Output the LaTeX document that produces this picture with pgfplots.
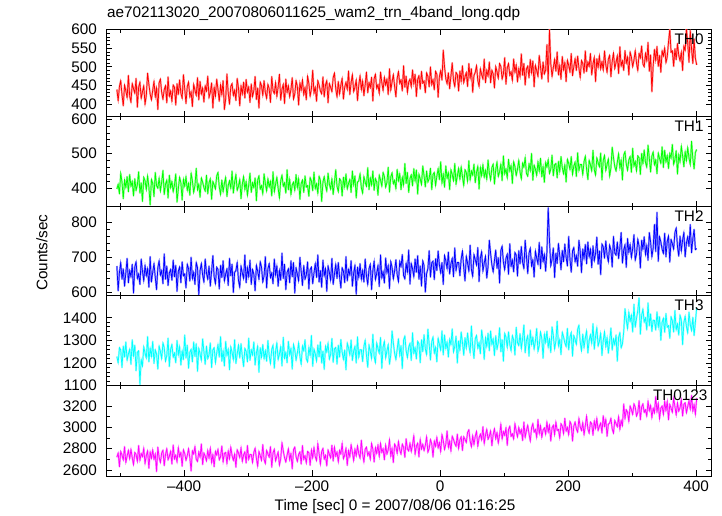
\documentclass[border=0pt]{standalone}
\usepackage{pgfplots}
\usepackage{pgfplotstable}
\usepackage{fontspec}
\setmainfont{Liberation Sans}
\pgfplotsset{compat=1.18}
\definecolor{qred}{RGB}{255,0,0}
\definecolor{qgreen}{RGB}{0,255,0}
\definecolor{qblue}{RGB}{0,0,255}
\definecolor{qcyan}{RGB}{0,255,255}
\definecolor{qmag}{RGB}{255,0,255}
\newcommand{\lbl}{\fontsize{15.3}{18}\selectfont}
\pgfplotstableread{
t a b c d e
-505 439 398 675 1229 2720
-503 409 412 604 1201 2760
-501 447 384 657 1268 2630
-499 463 444 685 1258 2775
-497 425 418 637 1180 2740
-495 395 370 667 1275 2695
-493 451 424 617 1226 2820
-491 435 402 655 1293 2670
-489 417 434 697 1212 2730
-487 477 390 627 1240 2785
-485 421 440 662 1261 2705
-483 405 406 644 1194 2795
-481 455 420 680 1303 2715
-479 441 378 597 1233 2650
-477 429 428 672 1279 2765
-475 469 394 687 1166 2745
-473 391 410 639 1247 2680
-471 445 448 652 1254 2830
-469 459 386 622 1105 2690
-467 415 416 695 1215 2755
-465 433 362 660 1187 2725
-463 449 432 632 1272 2805
-461 399 422 677 1244 2660
-459 423 396 647 1222 2735
-457 483 436 667 1317 2780
-455 453 404 614 1205 2615
-453 427 352 702 1265 2770
-451 411 426 629 1229 2710
-449 437 414 657 1296 2790
-447 461 376 682 1198 2700
-445 419 446 642 1258 2750
-443 443 408 607 1240 2585
-441 385 400 670 1173 2815
-439 457 430 690 1275 2720
-437 467 392 649 1251 2670
-435 431 418 662 1219 2760
-433 413 452 624 1289 2785
-431 439 382 710 1268 2640
-429 449 412 637 1208 2745
-427 403 424 675 1233 2800
-425 473 372 619 1310 2695
-423 421 438 655 1184 2730
-421 435 402 665 1261 2775
-419 407 420 634 1282 2655
-417 451 390 692 1226 2835
-415 445 410 644 1244 2705
-413 397 442 677 1201 2740
-411 455 360 602 1300 2675
-409 425 398 660 1236 2810
-407 465 432 672 1272 2725
-405 429 416 627 1191 2765
-403 415 366 687 1254 2635
-401 479 426 647 1215 2790
-399 441 406 652 1324 2755
-397 401 434 612 1222 2690
-395 447 394 680 1279 2735
-393 459 414 667 1177 2800
-391 419 380 632 1247 2715
-389 433 444 700 1261 2590
-387 393 422 639 1205 2780
-385 453 388 657 1293 2750
-383 437 408 622 1229 2820
-381 423 458 685 1286 2700
-379 471 396 670 1163 2680
-377 411 412 592 1265 2770
-375 461 374 662 1240 2720
-373 427 430 682 1212 2845
-371 443 418 649 1307 2650
-369 405 402 629 1251 2760
-367 449 392 695 1194 2730
-365 435 438 655 1275 2685
-363 475 384 637 1219 2785
-361 417 416 675 1236 2710
-359 431 428 617 1289 2805
-357 457 368 660 1180 2670
-355 389 420 705 1258 2745
-353 445 410 644 1268 2630
-351 421 398 624 1201 2775
-349 467 436 672 1244 2740
-347 439 446 665 1282 2795
-345 407 404 609 1226 2695
-343 451 382 677 1317 2725
-341 425 424 642 1208 2825
-339 463 390 690 1254 2675
-337 385 414 632 1187 2755
-335 413 432 652 1296 2765
-333 481 376 667 1233 2660
-331 429 408 619 1261 2780
-329 399 422 697 1170 2705
-327 447 400 647 1272 2815
-325 455 450 680 1247 2735
-323 423 386 599 1215 2690
-321 437 418 657 1303 2750
-319 409 440 662 1198 2625
-317 469 394 685 1240 2790
-315 443 406 634 1279 2760
-313 395 426 614 1222 2715
-311 449 370 675 1286 2810
-309 427 412 655 1229 2680
-307 459 434 639 1184 2740
-305 416 396 707 1265 2770
-303 466 420 627 1251 2665
-301 432 380 670 1205 2830
-299 446 410 644 1310 2700
-297 404 444 692 1212 2745
-295 454 388 622 1258 2745
-293 420 416 665 1236 2670
-291 436 402 652 1293 2765
-289 474 430 604 1191 2805
-287 412 364 677 1244 2710
-285 443 424 660 1275 2635
-283 389 436 637 1159 2775
-281 459 398 687 1268 2735
-279 449 408 672 1226 2690
-277 423 384 629 1282 2840
-275 463 442 647 1219 2700
-273 431 414 702 1254 2660
-271 415 392 612 1208 2785
-269 453 428 667 1300 2750
-267 441 404 682 1233 2720
-265 404 420 642 1198 2820
-263 474 378 655 1261 2625
-261 436 448 624 1279 2760
-259 428 390 695 1177 2795
-257 458 412 649 1251 2685
-255 420 432 675 1289 2730
-253 446 400 617 1215 2770
-251 480 372 662 1240 2645
-249 410 422 634 1272 2705
-247 440 438 712 1187 2855
-245 453 406 639 1314 2780
-243 401 416 680 1222 2715
-241 467 386 607 1247 2675
-239 431 454 657 1201 2740
-237 449 396 667 1296 2800
-235 419 426 627 1236 2695
-233 439 382 690 1265 2755
-231 471 410 644 1173 2610
-229 413 418 685 1282 2790
-227 427 394 597 1258 2815
-225 463 440 670 1212 2725
-223 447 402 652 1244 2680
-221 397 428 632 1289 2745
-219 457 368 700 1229 2770
-217 437 414 660 1194 2655
-215 465 424 619 1275 2830
-213 425 388 677 1254 2700
-211 445 436 637 1303 2735
-209 411 404 649 1219 2665
-207 475 408 687 1205 2775
-205 455 377 609 1269 2763
-203 421 431 665 1234 2643
-201 441 421 672 1322 2788
-199 491 393 624 1185 2713
-197 429 447 655 1262 2813
-195 445 399 682 1241 2723
-193 407 413 642 1209 2688
-191 463 385 707 1280 2848
-189 451 435 629 1227 2753
-187 435 423 662 1294 2653
-185 427 362 614 1200 2773
-183 473 418 692 1253 2803
-181 419 434 647 1172 2703
-179 451 408 667 1274 2738
-177 463 392 602 1249 2638
-175 403 444 675 1288 2788
-173 455 412 657 1217 2748
-171 445 398 634 1238 2713
-169 433 428 697 1309 2833
-167 471 382 622 1203 2683
-165 483 418 652 1262 2815
-163 441 454 680 1269 2730
-161 419 406 639 1195 2770
-159 461 390 685 1279 2675
-157 427 428 644 1226 2785
-155 451 422 612 1304 2750
-153 469 378 670 1248 2850
-151 413 432 660 1216 2705
-149 445 404 627 1258 2740
-147 459 442 702 1170 2805
-145 439 398 632 1288 2642
-143 489 414 665 1267 2782
-141 425 426 649 1235 2722
-139 457 388 690 1302 2837
-137 479 450 617 1211 2767
-135 433 410 655 1253 2687
-133 445 436 677 1274 2797
-131 465 372 594 1200 2732
-129 409 418 672 1316 2827
-127 451 422 642 1225 2752
-125 476 442 682 1259 2710
-123 438 402 637 1259 2880
-121 462 386 662 1206 2750
-119 422 434 629 1273 2675
-117 452 418 695 1301 2795
-115 486 406 647 1234 2815
-113 430 460 622 1181 2735
-111 458 396 667 1280 2770
-109 444 430 680 1252 2700
-107 472 410 607 1220 2850
-105 408 450 662 1327 2795
-103 468 394 689 1229 2675
-101 480 428 636 1201 2810
-99 442 418 654 1289 2755
-97 452 380 677 1264 2835
-95 428 438 616 1243 2725
-93 486 424 707 1313 2850
-91 458 406 641 1176 2765
-89 436 446 659 1271 2800
-87 472 434 626 1296 2695
-85 451 403 698 1222 2834
-83 467 417 655 1254 2749
-81 425 461 676 1282 2789
-79 495 389 610 1194 2884
-77 437 433 688 1236 2729
-75 459 445 671 1342 2804
-73 479 413 638 1289 2669
-71 447 423 661 1243 2844
-69 419 399 693 1215 2819
-67 469 455 650 1261 2754
-65 487 422 630 1308 2868
-63 455 442 688 1234 2788
-61 465 396 673 1277 2748
-59 435 432 708 1175 2843
-57 503 410 648 1301 2813
-55 445 472 638 1319 2718
-53 475 414 683 1255 2893
-51 431 446 658 1224 2798
-49 459 388 721 1270 2778
-47 467 428 623 1287 2853
-45 446 439 682 1211 2772
-43 492 407 667 1334 2837
-41 454 457 644 1243 2922
-39 480 421 695 1268 2747
-37 420 453 657 1218 2822
-35 466 383 705 1296 2852
-33 476 441 637 1285 2722
-31 440 427 675 1201 2887
-29 488 411 617 1303 2797
-27 456 465 690 1250 2842
-25 462 436 676 1325 2781
-23 430 404 600 1262 2831
-21 484 450 653 1237 2911
-19 474 418 668 1350 2766
-17 446 428 719 1283 2801
-15 500 458 643 1213 2886
-13 452 396 684 1294 2846
-11 466 440 689 1315 2721
-9 438 446 636 1244 2871
-7 488 408 696 1269 2821
-5 480 435 662 1205 2907
-3 418 457 718 1310 2807
-1 474 425 678 1282 2857
1 490 477 655 1257 2772
3 464 415 685 1342 2932
5 545 441 622 1236 2877
7 500 403 705 1324 2792
9 468 465 690 1264 2842
11 454 429 667 1293 2967
13 484 445 715 1226 2812
15 441 396 652 1305 2872
17 475 454 682 1281 2777
19 511 440 697 1351 2917
21 463 422 644 1249 2887
23 447 472 727 1273 2847
25 485 412 662 1319 2822
27 479 436 685 1200 2937
29 435 458 685 1298 2802
31 489 426 647 1256 2882
33 461 462 695 1337 2912
35 503 434 718 1291 2782
37 457 408 670 1234 2912
39 473 454 632 1312 2887
41 485 446 703 1266 2857
43 447 420 683 1333 2952
45 509 480 660 1280 2977
47 469 424 735 1245 2872
49 495 450 665 1364 2817
51 431 438 645 1273 2922
53 477 470 708 1220 2837
55 485 416 693 1308 2917
57 503 446 678 1322 2962
59 463 464 728 1265 2822
61 447 398 630 1290 2902
63 495 460 698 1241 2937
65 479 436 716 1346 2882
67 467 468 660 1301 3007
69 521 432 683 1216 2847
71 457 452 703 1311 2927
73 491 426 640 1272 2982
75 475 482 673 1332 2887
77 513 444 749 1254 2917
79 457 424 711 1342 2967
81 491 460 678 1282 2827
83 481 470 658 1307 2932
85 443 412 691 1233 2987
87 501 454 721 1321 2892
89 487 476 668 1261 2952
91 469 434 699 1290 2852
93 509 448 626 1356 2927
95 501 470 719 1250 3030
97 467 422 732 1303 2890
99 481 494 686 1208 2960
101 525 442 664 1331 2925
103 453 456 697 1314 2995
105 497 430 709 1268 2830
107 509 484 651 1338 2980
109 477 450 739 1282 3010
111 487 466 674 1254 2915
113 463 414 692 1321 2940
115 521 477 658 1302 2890
117 485 463 714 1235 3035
119 505 437 706 1358 2965
121 459 455 646 1291 2910
123 495 481 719 1277 3000
125 473 447 681 1330 2940
127 535 427 731 1263 2980
129 477 473 686 1309 2875
131 509 461 668 1368 3050
133 451 489 749 1245 2905
135 494 443 703 1300 2970
137 502 435 653 1321 3020
139 470 471 711 1230 2940
141 520 451 726 1346 2870
143 484 501 675 1282 2995
145 516 423 693 1314 3035
147 446 467 643 1261 2955
149 504 455 718 1297 2980
151 490 437 698 1353 2905
153 474 477 680 1251 3075
155 531 449 743 1277 2940
157 499 487 667 1337 3015
159 467 433 730 1309 2905
161 513 463 687 1221 2975
163 481 417 708 1327 2995
165 491 475 660 1291 2935
167 560 461 715 1341 3050
169 459 483 842 1270 2955
171 601 443 748 1306 3020
173 509 455 675 1246 2870
175 474 496 694 1360 2995
177 498 436 727 1322 3020
179 520 468 642 1262 2930
181 488 472 712 1297 3050
183 540 430 682 1385 2970
185 478 478 740 1276 2980
187 504 448 705 1304 2900
189 466 492 664 1237 3035
191 528 460 720 1336 3010
193 492 442 687 1315 2940
195 512 468 738 1289 3085
197 460 418 700 1272 2965
199 518 484 675 1353 3000
201 504 472 760 1258 2930
203 486 454 695 1314 3055
205 536 492 657 1335 3025
207 476 440 718 1230 2870
209 500 464 728 1321 3010
211 522 476 687 1304 3050
213 490 434 705 1282 2985
215 529 503 674 1349 2955
217 497 451 749 1367 3085
219 471 469 717 1293 3005
221 517 469 656 1254 2970
223 509 439 724 1328 3045
225 483 477 696 1268 2930
227 543 493 737 1311 3015
229 487 455 681 1342 3105
231 513 425 744 1244 2985
233 501 481 701 1300 2945
235 536 468 723 1325 3050
237 478 450 670 1286 3035
239 508 510 733 1374 2925
241 526 454 690 1261 3060
243 460 438 711 1318 2990
245 522 488 758 1356 3085
247 498 474 680 1275 2970
249 530 462 718 1296 3010
251 494 502 650 1332 3040
253 514 424 738 1233 2945
255 491 481 730 1299 3110
257 543 495 697 1338 3010
259 505 451 747 1271 3075
261 485 469 707 1313 2915
263 521 485 687 1243 3030
265 531 435 735 1296 3040
267 473 459 720 1355 3085
269 515 519 672 1257 2985
271 537 489 760 1306 2945
273 495 463 712 1281 3065
275 512 450 706 1324 3035
277 530 476 744 1208 3005
279 482 500 696 1313 3100
281 554 458 729 1334 2980
283 502 482 771 1267 3065
285 516 424 683 1285 3015
287 490 496 721 1338 3220
289 544 506 736 1440 3080
291 510 470 671 1391 3165
293 526 452 754 1352 3140
295 478 482 714 1425 3055
297 540 492 737 1383 3200
299 526 446 699 1411 3165
301 500 516 725 1337 3120
303 518 464 765 1460 3220
305 544 478 692 1358 3190
307 510 450 709 1397 3105
309 490 494 752 1432 3140
311 536 488 732 1488 3250
313 524 440 669 1327 3070
315 556 501 749 1410 3190
317 508 471 723 1438 3220
319 500 511 759 1381 3140
321 536 475 708 1399 3165
323 516 461 734 1346 3105
325 566 525 691 1466 3245
327 488 487 771 1364 3155
329 532 447 744 1417 3205
331 433 493 701 1339 3090
333 502 505 726 1389 3180
335 547 468 794 1388 3135
337 517 482 716 1345 3290
339 555 442 829 1426 3145
341 501 502 688 1359 3225
343 531 486 759 1405 3080
345 485 472 744 1300 3180
347 543 520 723 1381 3200
349 529 460 711 1398 3120
351 551 510 769 1335 3245
353 511 476 701 1419 3155
355 527 495 746 1358 3245
357 567 457 761 1365 3070
359 601 501 686 1309 3215
361 539 487 751 1404 3180
363 543 527 739 1386 3140
365 501 469 723 1337 3275
367 549 483 771 1432 3195
369 519 509 784 1347 3115
371 563 441 731 1372 3230
373 531 497 703 1323 3150
375 516 476 761 1411 3185
377 540 522 718 1390 3260
379 490 494 749 1281 3105
381 556 462 771 1379 3215
383 544 506 701 1407 3230
385 603 480 741 1361 3135
387 564 518 759 1333 3195
389 512 488 731 1425 3250
391 598 468 794 1369 3170
393 548 536 713 1344 3300
395 509 486 753 1402 3150
397 575 456 780 1321 3215
399 523 504 722 1381 3120
401 505 512 725 1444 3275
}\data
\pgfplotsset{
  panel/.style={
    scale only axis, width=605.7pt,
    xmin=-522, xmax=424.5,
    xtick={-400,-200,0,200,400},
    minor xtick={-500,-300,-100,100,300},
    xticklabels={},
    tick align=inside,
    xtick pos=both, ytick pos=both,
    major tick length=6pt, minor tick length=3.5pt,
    axis line style={line width=1pt, black},
    every tick/.style={line width=0.8pt, black},
    every minor tick/.style={line width=0.8pt, black},
    scaled ticks=false,
    /pgf/number format/assume math mode=true,
    /pgf/number format/1000 sep={},
    yticklabel style={font=\lbl, inner sep=0pt, xshift=-9pt},
    xticklabel style={font=\lbl, inner sep=0pt, yshift=-5pt},
    anchor=south west,
  },
  bline/.style={line width=1.8pt, line join=round},
  dline/.style={line width=0.7pt},
}
\begin{document}
\begin{tikzpicture}[x=1pt,y=1pt]
\useasboundingbox (0,0) rectangle (722,516);
% Panel 1 TH0
\begin{axis}[panel, name=p1, at={(106pt,399pt)}, height=87.7pt,
  ymin=365, ymax=601, ytick={400,450,500,550,600}, minor y tick num=4]
\addplot[bline, qred!40] table[x=t,y=a]{\data};
\addplot[dline, qred] table[x=t,y=a]{\data};
\end{axis}
% Panel 2 TH1
\begin{axis}[panel, name=p2, at={(106pt,309.3pt)}, height=89.7pt,
  ymin=347, ymax=606, ytick={400,500,600}, minor y tick num=4]
\addplot[bline, qgreen!40] table[x=t,y=b]{\data};
\addplot[dline, qgreen] table[x=t,y=b]{\data};
\end{axis}
% Panel 3 TH2
\begin{axis}[panel, name=p3, at={(106pt,220pt)}, height=89.3pt,
  ymin=589, ymax=845, ytick={600,700,800}, minor y tick num=4]
\addplot[bline, qblue!40] table[x=t,y=c]{\data};
\addplot[dline, qblue] table[x=t,y=c]{\data};
\end{axis}
% Panel 4 TH3
\begin{axis}[panel, name=p4, at={(106pt,130.3pt)}, height=89.7pt,
  ymin=1100, ymax=1496, ytick={1100,1200,1300,1400}, minor y tick num=4]
\addplot[bline, qcyan!40] table[x=t,y=d]{\data};
\addplot[dline, qcyan] table[x=t,y=d]{\data};
\end{axis}
% Panel 5 TH0123
\begin{axis}[panel, name=p5, at={(106pt,40pt)}, height=90.3pt,
  ymin=2544, ymax=3390, ytick={2600,2800,3000,3200}, minor y tick num=1,
  xticklabels={\textendash400,\textendash200,0,200,400}]
\addplot[bline, qmag!40] table[x=t,y=e]{\data};
\addplot[dline, qmag] table[x=t,y=e]{\data};
\end{axis}
\node[anchor=north east, inner sep=0pt, font=\lbl] at ([xshift=-8pt,yshift=-4pt]p1.north east) {TH0};
\node[anchor=north east, inner sep=0pt, font=\lbl] at ([xshift=-8pt,yshift=-4pt]p2.north east) {TH1};
\node[anchor=north east, inner sep=0pt, font=\lbl] at ([xshift=-8pt,yshift=-4pt]p3.north east) {TH2};
\node[anchor=north east, inner sep=0pt, font=\lbl] at ([xshift=-8pt,yshift=-4pt]p4.north east) {TH3};
\node[anchor=north east, inner sep=0pt, font=\lbl] at ([xshift=-4pt,yshift=-4pt]p5.north east) {TH0123};
\node[anchor=base west, inner sep=0pt, font=\lbl] at (107,498) {ae702113020\_20070806011625\_wam2\_trn\_4band\_long.qdp};
\node[rotate=90, inner sep=0pt, font=\lbl] at (42,263.3) {Counts/sec};
\node[anchor=base, inner sep=0pt, font=\lbl] at (395,5) {Time [sec] 0 = 2007/08/06 01:16:25};
\end{tikzpicture}
\end{document}
